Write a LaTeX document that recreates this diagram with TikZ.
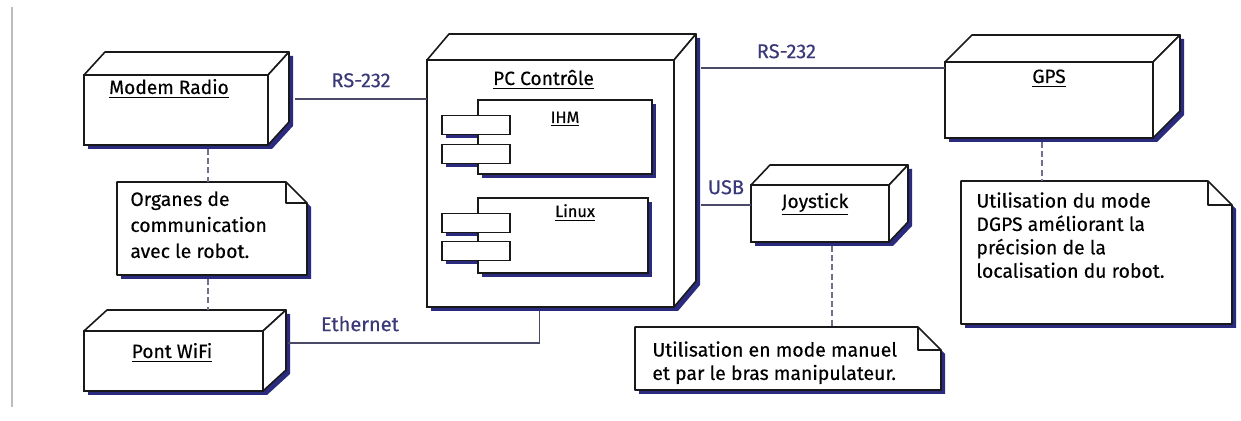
\documentclass[tikz,border=0pt]{standalone}
\usepackage{fontspec}
\setmainfont{Fira Sans}[FakeBold=0.35]
\usetikzlibrary{positioning}

\definecolor{shadeblue}{HTML}{2A2A7E}
\definecolor{linkgray}{HTML}{4A4A66}
\definecolor{depgray}{HTML}{70708E}
\definecolor{lblblue}{HTML}{3A3A78}
\definecolor{framegray}{HTML}{BDBDBD}

\pgfdeclarelayer{shade}
\pgfdeclarelayer{cshade}
\pgfdeclarelayer{inner}
\pgfsetlayers{shade,main,cshade,inner}

\tikzset{
  box/.style={draw=black!90, fill=white, line width=0.8pt, inner sep=0pt, outer sep=0pt},
  face/.style={draw=black!90, fill=white, line width=0.8pt, line join=round},
  title/.style={anchor=base, inner sep=0pt, font=\fontsize{9.6}{11}\selectfont},
  ctitle/.style={anchor=base, inner sep=0pt, font=\fontsize{8.2}{10}\selectfont},
  comp/.style={draw=black!90, fill=white, line width=0.7pt, inner sep=0pt, outer sep=0pt},
  port/.style={comp, minimum width=34pt, minimum height=9.5pt},
  note/.style={inner sep=0pt, outer sep=0pt},
  notetext/.style={anchor=north west, align=left, inner sep=0pt, font=\fontsize{9.7}{11.7}\selectfont},
  link/.style={draw=linkgray, line width=0.6pt},
  dep/.style={draw=depgray, line width=0.8pt, dash pattern=on 3pt off 1.6pt},
  lbl/.style={text=lblblue, inner sep=0pt, font=\fontsize{10}{12}\selectfont},
  shadowed/.style={fill=shadeblue, transform canvas={xshift=2pt, yshift=-2pt}}
}

\begin{document}
\begin{tikzpicture}[x=0.5pt, y=-0.5pt]

    % the frame
    \useasboundingbox (0,0) rectangle (1241,421);
    \draw[framegray, line width=1pt] (12,7) -- (12,407);

    % the nodes
    \node[box, minimum width=92pt, minimum height=35pt,
          label={[title, xshift=-3.5pt, yshift=-9.5pt]north:\underline{Modem Radio}}] (modem) at (176,110) {};
    \node[box, minimum width=89.5pt, minimum height=30pt,
          label={[title, xshift=-0.75pt, yshift=-13.5pt]north:\underline{Pont WiFi}}] (wifi) at (173.5,361) {};
    \node[box, minimum width=123.5pt, minimum height=123.5pt,
          label={[title, xshift=-3.5pt, yshift=-12.5pt]north:\underline{PC Contrôle}}] (pc) at (550.5,183.5) {};
    \node[box, minimum width=69pt, minimum height=28.5pt,
          label={[title, xshift=-2.5pt, yshift=-11.5pt]north:\underline{Joystick}}] (joy) at (820,213.5) {};
    \node[box, minimum width=104pt, minimum height=38pt,
          label={[title, yshift=-10.5pt]north:\underline{GPS}}] (gps) at (1049,100) {};

    % depth and shadow
    \foreach \n/\dx/\dy in {modem/21/23, wifi/23/21, pc/22/26, joy/19/20, gps/27/27} {
        \begin{pgfonlayer}{shade}
            \fill[shadowed] (\n.south west) -- (\n.south east) -- ++(\dx,-\dy)
                -- ([shift={(\dx,-\dy)}]\n.north east) -- ([shift={(\dx,-\dy)}]\n.north west)
                -- (\n.north west) -- cycle;
        \end{pgfonlayer}
        \draw[face] (\n.north west) -- ++(\dx,-\dy) -- ([shift={(\dx,-\dy)}]\n.north east) -- (\n.north east) -- cycle;
        \draw[face] (\n.north east) -- ++(\dx,-\dy) -- ([shift={(\dx,-\dy)}]\n.south east) -- (\n.south east) -- cycle;
        \coordinate (\n-top) at ([shift={(\dx,-\dy)}]\n.north);
    }

    % the components
    \begin{pgfonlayer}{inner}
        \node[comp, minimum width=87pt, minimum height=37pt,
              label={[ctitle, yshift=-11.5pt]north:\underline{IHM}}] (ihm) at (565,137) {};
        \node[comp, minimum width=85pt, minimum height=37.5pt,
              label={[ctitle, xshift=6pt, yshift=-9.5pt]north:\underline{Linux}}] (linux) at (563,235.5) {};
        \node[port] (ihm-a) at (476,125) {};
        \node[port] (ihm-b) at (476,154) {};
        \node[port] (linux-a) at (476,223) {};
        \node[port] (linux-b) at (476,251) {};
    \end{pgfonlayer}
    \begin{pgfonlayer}{cshade}
        \foreach \c in {ihm, linux, ihm-a, ihm-b, linux-a, linux-b}
            \fill[shadowed] (\c.south west) rectangle (\c.north east);
    \end{pgfonlayer}

    % the notes
    \node[note, minimum width=95pt, minimum height=46.5pt] (n1) at (212,228.5) {};
    \node[note, minimum width=153pt, minimum height=31.5pt] (n2) at (788,358.5) {};
    \node[note, minimum width=135.5pt, minimum height=71.5pt] (n3) at (1096.5,252.5) {};
    \foreach \n/\f in {n1/21, n2/23, n3/24} {
        \begin{pgfonlayer}{shade}
            \fill[shadowed] (\n.north west) -- ([shift={(-\f,0)}]\n.north east) -- ([shift={(0,\f)}]\n.north east)
                -- (\n.south east) -- (\n.south west) -- cycle;
        \end{pgfonlayer}
        \draw[face] (\n.north west) -- ([shift={(-\f,0)}]\n.north east) -- ([shift={(0,\f)}]\n.north east)
            -- (\n.south east) -- (\n.south west) -- cycle;
        \draw[face, fill=none] ([shift={(-\f,0)}]\n.north east) |- ([shift={(0,\f)}]\n.north east);
    }
    \node[notetext, font=\fontsize{9.7}{13}\selectfont] (n1-text) at ([shift={(13,9)}]n1.north west)
        {Organes de\\communication\\avec le robot.};
    \node[notetext] (n2-text) at ([shift={(17,14)}]n2.north west)
        {Utilisation en mode manuel\\et par le bras manipulateur.};
    \node[notetext] (n3-text) at ([shift={(15,11)}]n3.north west)
        {Utilisation du mode\\DGPS améliorant la\\précision de la\\localisation du robot.};

    % the links
    \draw[link] (modem.east) ++(27,-11) coordinate (rs-a) -- (rs-a -| pc.west)
        node[lbl, midway, above=5.5pt] (rs-a-lbl) {RS-232};
    \draw[link] (pc.east) ++(27,-115.5) coordinate (rs-b) -- (rs-b -| gps.west)
        node[lbl, pos=0.35, above=4.5pt] (rs-b-lbl) {RS-232};
    \draw[link] (pc.east) ++(27,21.5) coordinate (usb) -- (usb -| joy.west)
        node[lbl, midway, above=5pt] (usb-lbl) {USB};
    \draw[link] (wifi.east) ++(25,-18) coordinate (eth) -| ([shift={(-11,4)}]pc.south)
        node[lbl, pos=0.143, above=5.5pt] (eth-lbl) {Ethernet};

    % the dependencies
    \draw[dep] (modem.south) ++(32,4) coordinate (d1) -- (d1 |- n1.north);
    \draw[dep] (n1.south) ++(-4,4) coordinate (d2) -- (d2 |- wifi-top);
    \draw[dep] (joy.south) ++(12,4) coordinate (d3) -- (d3 |- n2.north);
    \draw[dep] (gps.south) ++(-7,4) coordinate (d4) -- (d4 |- n3.north);

\end{tikzpicture}
\end{document}
